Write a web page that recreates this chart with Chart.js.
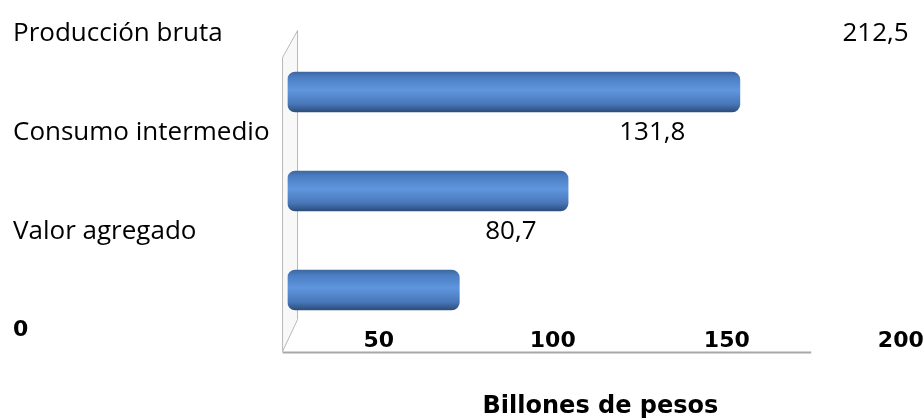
<!DOCTYPE html>
<html>
<head>
<meta charset="utf-8">
<script src="https://cdn.jsdelivr.net/npm/chart.js@4/dist/chart.umd.min.js"></script>
<style>
  html, body { margin: 0; background: #fff; }
</style>
</head>
<body>
<canvas id="chart" width="924" height="419"></canvas>
<script>
const categories = ["Producción bruta", "Consumo intermedio", "Valor agregado"];
const values = [212.5, 131.8, 80.7];
const tickValues = [0, 50, 100, 150, 200];
const axisTitle = "Billones de pesos";

const labelFont = { family: "'Open Sans', sans-serif", size: 26 };
const boldFont = { family: "'DejaVu Sans', sans-serif", size: 22, weight: "bold", lineHeight: 1 };
const barThickness = 40;

// left-hand labels: the categories, then the "0" of the value axis
const rowLabels = [...categories, String(tickValues[0])];

// cylinder look: vertical gradient per bar
function barGradient(c) {
  const chart = c.chart;
  if (!chart.chartArea || c.dataIndex === undefined) return "#4f81bd";
  const mid = chart.scales.y.getPixelForValue(c.dataIndex);
  const h = barThickness / 2;
  const g = chart.ctx.createLinearGradient(0, mid - h, 0, mid + h);
  g.addColorStop(0, "#3d679f");
  g.addColorStop(0.12, "#4a7cc1");
  g.addColorStop(0.45, "#6096de");
  g.addColorStop(0.8, "#4877b8");
  g.addColorStop(1, "#2c4d7c");
  return g;
}

// the 3D side wall and floor edge
const wall = {
  id: "wall",
  beforeDatasetsDraw(chart) {
    const { ctx, scales: { x, y } } = chart;
    const x0 = x.getPixelForValue(0);
    const top = y.getPixelForValue(-0.5);
    const bottom = y.getPixelForValue(2.5);
    ctx.save();
    ctx.strokeStyle = "#b8b8b8";
    ctx.lineWidth = 1;
    ctx.fillStyle = "#f8f8f8";
    ctx.beginPath();
    ctx.moveTo(x0 - 5, top + 15);
    ctx.lineTo(x0 + 10, top - 12);
    ctx.lineTo(x0 + 10, bottom - 20);
    ctx.lineTo(x0 - 5, bottom + 12);
    ctx.closePath();
    ctx.fill();
    ctx.stroke();
    ctx.strokeStyle = "#a8a8a8";
    ctx.lineWidth = 2;
    ctx.beginPath();
    ctx.moveTo(x0 - 5, bottom + 13);
    ctx.lineTo(x.getPixelForValue(246), bottom + 13);
    ctx.stroke();
    ctx.restore();
  }
};

const valueLabels = {
  id: "valueLabels",
  afterDatasetsDraw(chart) {
    const { ctx, scales: { x, y2 } } = chart;
    ctx.save();
    ctx.font = labelFont.size + "px " + labelFont.family;
    ctx.fillStyle = "#000";
    ctx.textAlign = "center";
    ctx.textBaseline = "middle";
    values.forEach((v, i) => {
      ctx.fillText(v.toFixed(1).replace(".", ","), x.getPixelForValue(v * 1.3), y2.getPixelForValue(i));
    });
    ctx.restore();
  }
};

new Chart(document.getElementById("chart"), {
  type: "bar",
  data: {
    datasets: [{
      data: values.map((v, i) => ({ x: v, y: i })),
      backgroundColor: barGradient,
      borderRadius: 8,
      borderSkipped: false,
      barThickness: barThickness
    }]
  },
  options: {
    indexAxis: "y",
    responsive: false,
    animation: false,
    layout: { padding: { top: 34, left: 13, right: 9, bottom: 0 } },
    plugins: {
      legend: { display: false },
      tooltip: { enabled: false }
    },
    scales: {
      x: { type: "linear", display: false, min: 0, max: 294 },
      y: { type: "linear", display: false, offset: false, reverse: true, min: -0.586, max: 2.404 },
      y2: {
        type: "category",
        position: "left",
        labels: rowLabels,
        offset: false,
        grid: { display: false, drawTicks: false },
        border: { display: false },
        ticks: {
          crossAlign: "far",
          padding: 9,
          color: "#000",
          autoSkip: false,
          font: c => c.index === categories.length ? boldFont : labelFont
        }
      },
      x2: {
        type: "linear",
        position: "bottom",
        min: 23.8,
        max: 203.6,
        grid: { display: false, drawTicks: false },
        border: { display: false },
        afterBuildTicks: s => { s.ticks = tickValues.slice(1).map(v => ({ value: v })); },
        ticks: { padding: 0, color: "#000", font: boldFont, maxRotation: 0 },
        title: {
          display: true,
          text: axisTitle,
          color: "#000",
          font: { ...boldFont, size: 24 },
          padding: { top: 43, bottom: 0 }
        }
      }
    }
  },
  plugins: [wall, valueLabels]
});
</script>
</body>
</html>
